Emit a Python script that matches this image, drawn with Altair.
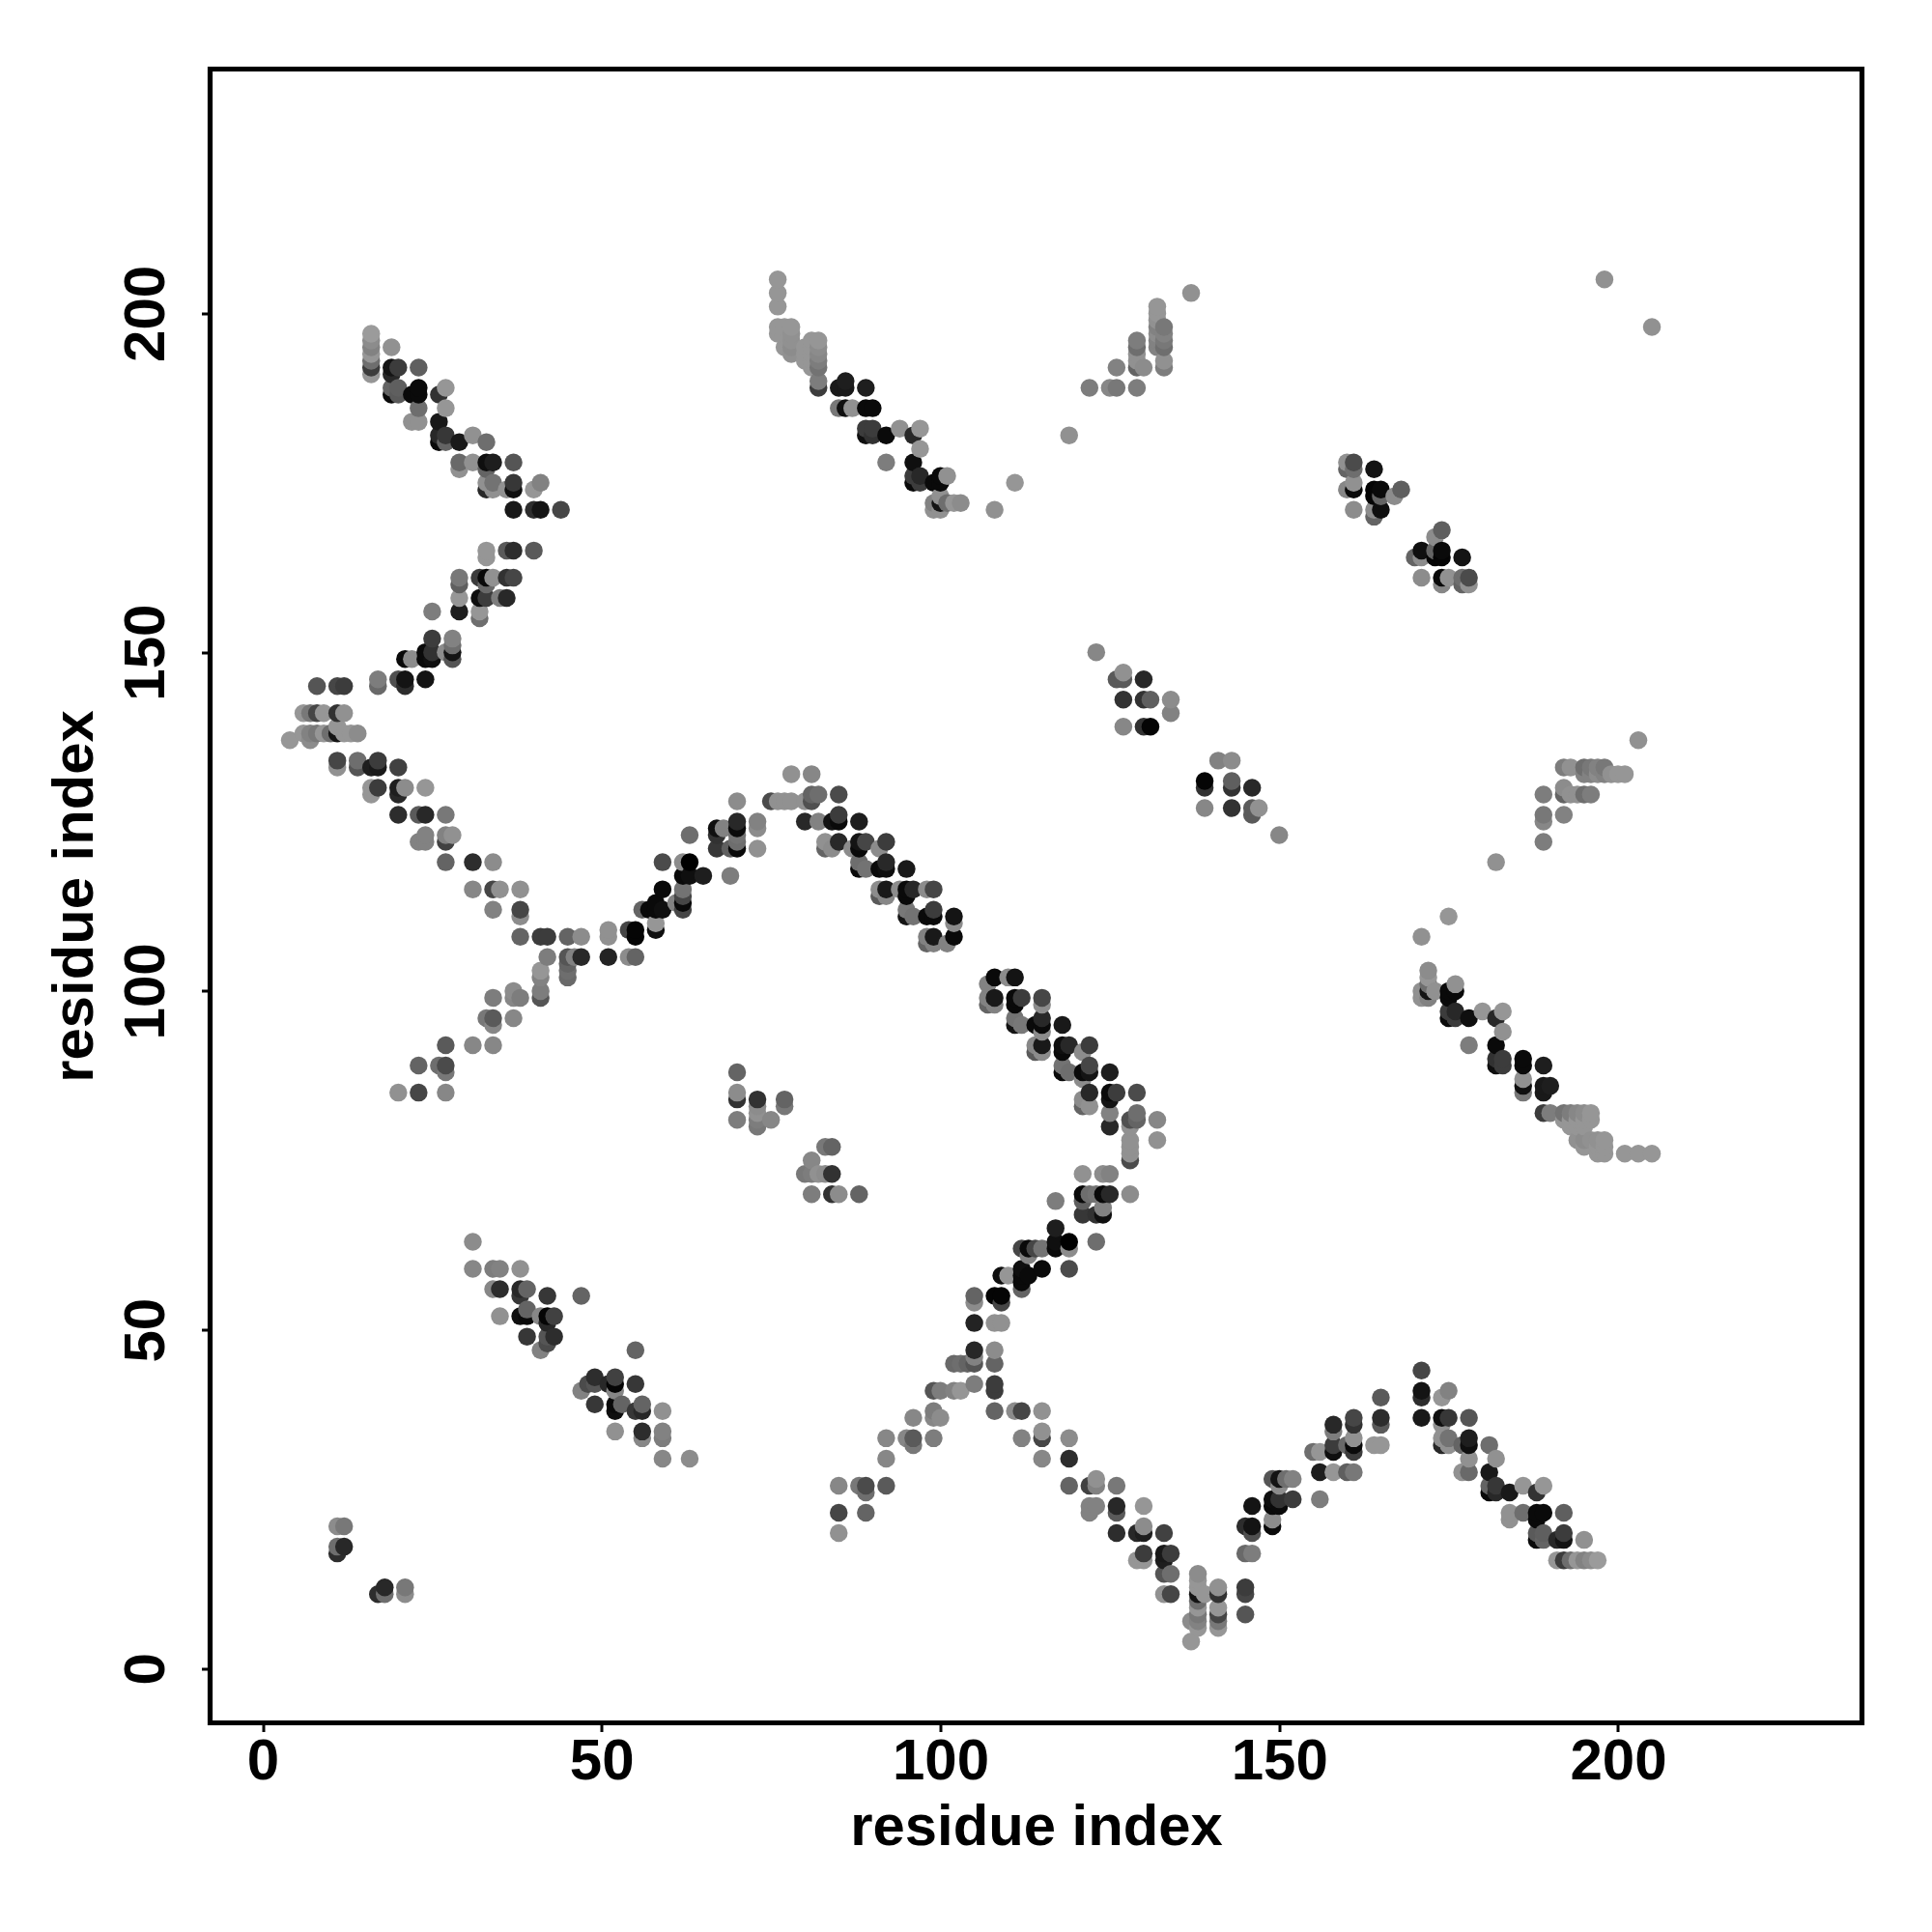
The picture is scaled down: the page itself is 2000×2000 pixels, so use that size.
import altair as alt
import pandas as pd

# Contact map: each entry is (residue a, residue b, grey level 0-255), a < b; the map is symmetric.
arm_upper_left = [
 (16,191,150),(16,192,60),(16,193,110),(16,194,150),(16,195,130),(16,196,140),(16,197,155),
 (19,195,145),(19,192,20),(20,192,60),(19,191,40),(23,192,95),
 (19,189,100),(20,189,95),(19,188,10),(20,188,90),(22,188,10),(23,189,10),(23,188,10),
 (26,188,50),(27,189,150),(23,186,110),(22,184,145),(23,184,145),(27,186,150),(26,184,25),
 (26,182,40),(27,182,55),(26,181,10),(27,181,100),(29,181,25),(31,182,145),(33,181,110),
 (29,178,105),(29,177,145),(31,178,145),(33,178,15),(33,177,100),(34,178,30),(37,178,85),
 (33,175,145),(33,174,40),(34,175,115),(34,174,145),(36,174,145),(37,175,55),(37,174,15),
 (40,174,150),(41,175,130),(37,171,25),(40,171,45),(41,171,20),(44,171,70),
]
arm_mid_left = [
 (33,165,150),(33,164,150),(36,165,90),(37,165,45),(40,165,90),
 (29,161,120),(29,160,95),(32,161,60),(33,161,10),(33,160,105),(34,161,145),(36,161,50),(37,161,70),
 (29,158,150),(32,158,15),(33,158,60),(35,158,125),(36,158,40),
 (25,156,125),(29,156,30),(32,156,150),(32,155,110),
 (25,152,60),(28,152,130),(28,151,110),(28,150,20),(28,149,85),(25,150,50),(24,150,10),
 (24,149,10),(25,149,15),(27,150,140),(22,149,140),(21,149,10),
 (17,146,125),(17,145,105),(20,146,80),(21,146,20),(21,145,45),(24,146,20),
 (8,145,85),(11,145,70),(12,145,60),
]
arm_low_left = [
 (6,141,150),(7,141,120),(8,141,70),(9,141,150),(11,141,50),(12,141,145),
 (6,138,150),(7,138,130),(8,138,120),(9,138,150),(10,138,110),(11,138,20),(11,139,150),
 (12,138,150),(13,138,150),(14,138,140),(4,137,150),(7,137,140),
 (11,134,70),(11,133,145),(14,134,110),(14,133,85),(16,133,30),(17,134,60),(17,133,25),(20,133,65),
 (16,130,150),(16,129,150),(17,130,60),(20,130,30),(20,129,40),(21,130,140),(24,130,150),
 (20,126,45),(23,126,90),(24,126,40),(27,126,120),
 (23,122,130),(24,123,130),(24,122,130),(27,123,130),(27,122,65),(28,123,145),
 (27,119,100),(31,119,45),(34,119,140),
 (31,115,135),(34,115,70),(35,115,145),(38,115,145),
 (34,112,130),(38,112,70),(38,111,140),
 (38,108,100),(41,108,60),(42,108,60),(45,108,100),(47,108,140),(51,109,145),(51,108,145),
 (54,109,70),(55,109,5),(55,108,5),
 (42,105,125),(45,105,85),(45,104,100),(45,103,110),(45,102,105),(46,105,130),(47,105,40),
 (51,105,35),(54,105,140),(55,105,100),
 (41,103,150),(41,102,130),(41,100,125),(41,99,85),
 (37,100,140),(34,99,125),(38,99,125),(37,99,135),
 (33,96,120),(34,96,90),(34,95,135),(37,96,135),
 (27,92,90),(31,92,135),(34,92,135),
 (23,89,100),(26,89,110),(27,89,75),(27,88,120),
 (20,85,145),(23,85,70),(27,85,135),
]
arm_arch = [
 (78,132,145),(81,132,135),
 (70,128,140),(75,128,75),(76,128,145),(77,128,145),(78,128,145),(80,128,145),
 (81,129,100),(81,128,80),(82,129,110),(85,129,75),
 (80,125,40),(82,125,130),(84,125,20),(85,125,10),(85,126,60),(88,125,30),
 (83,122,145),(83,121,100),(84,121,140),(85,122,40),(87,121,140),(88,122,20),(88,121,10),
 (89,122,70),(92,122,60),(91,121,140),
 (88,119,110),(88,118,10),(89,118,115),(91,118,10),(92,119,40),(92,118,15),(95,118,25),
 (91,115,140),(91,114,90),(92,115,25),(92,114,135),(94,115,140),(95,115,10),(95,114,10),
 (96,115,40),(98,115,140),(99,115,70),
 (95,112,120),(95,111,20),(96,111,115),(98,111,10),(99,112,60),(99,111,10),(102,111,20),(102,110,140),
 (98,108,130),(98,107,100),(99,108,25),(99,107,130),(101,107,130),(102,108,10),
 (56,112,100),(57,112,10),(58,113,10),(58,112,10),(59,112,15),(59,115,10),
 (58,110,150),(58,109,15),(61,113,130),
 (62,115,115),(62,114,70),(62,113,10),(62,112,70),
 (59,119,75),(62,119,140),(63,119,0),(62,117,10),(63,117,15),(65,117,30),(69,117,125),(63,123,110),
 (67,124,15),(68,124,130),(70,125,40),(70,124,10),(73,125,130),(73,124,140),
 (67,123,50),(67,121,55),(69,121,95),(70,123,115),(70,122,110),(70,121,10),(73,121,145),
]
arm_top = [
 (76,205,150),(76,203,150),(76,201,150),(76,198,150),(76,197,150),
 (77,198,150),(77,197,150),(77,195,150),
 (78,198,150),(78,197,145),(78,196,145),(78,195,140),(78,194,145),
 (80,195,150),(80,194,150),(80,193,150),(81,196,150),(81,195,150),(81,194,150),(81,193,150),(81,192,150),
 (82,196,150),(82,195,140),(82,194,135),(82,193,125),(82,192,115),(82,190,125),(82,189,60),
 (85,189,25),(86,190,30),(86,189,25),(89,189,30),
 (85,186,120),(86,186,15),(87,186,145),(89,186,10),(90,186,10),
 (89,183,60),(89,182,15),(90,183,60),(90,182,50),(92,182,10),(94,183,145),(96,182,40),(97,183,150),
 (97,180,150),(96,178,15),(92,178,125),
 (96,176,60),(96,175,10),(97,176,40),(97,175,60),(99,175,10),(100,176,10),(100,175,10),(101,176,145),
 (100,173,145),(100,172,20),(99,172,130),(99,171,145),(100,171,145),
 (101,172,110),(102,172,150),(103,172,140),
 (108,171,145),(111,175,150),(119,182,145),
 (122,189,125),(125,189,135),(126,189,120),(129,189,125),(126,192,130),
 (129,196,125),(129,195,110),(129,194,145),(129,193,145),(129,192,100),(130,192,140),
 (132,201,150),(132,200,150),(132,199,145),(132,198,130),(132,197,140),(132,196,130),(132,195,130),
 (133,198,120),(133,197,130),(133,196,120),(133,195,110),(133,193,145),(133,192,125),(137,203,145),
]
patch_140 = [
 (123,150,135),(126,146,90),(127,147,145),(127,146,90),(130,146,40),(127,143,50),(130,143,50),
 (131,143,95),(134,143,140),(134,141,130),(127,139,135),(130,139,50),(131,139,5),
]
patch_170 = [
 (160,178,145),(161,178,75),(160,177,100),(161,177,110),(164,177,20),(160,174,135),(161,175,145),
 (161,174,10),(164,174,5),(165,174,10),(164,173,5),(165,173,100),(167,173,140),(168,174,95),
 (161,171,140),(164,171,140),(164,170,100),(165,171,15),
]
patch_50 = [
 (31,63,140),(31,59,135),(34,59,125),(35,59,130),(38,59,145),(34,56,135),(35,56,45),
 (38,56,40),(38,55,55),(39,56,100),(42,55,55),(47,55,100),
 (35,52,145),(38,52,15),(39,52,10),(39,53,100),(41,52,135),(42,52,5),(43,52,65),(42,51,40),
 (39,49,55),(42,49,85),(43,49,45),(41,47,130),(42,48,75),
]
patch_80 = [
 (70,88,100),(70,85,140),(70,84,50),(73,84,50),(73,83,140),(73,82,145),(73,81,125),(73,80,120),
 (70,81,125),(77,84,100),(77,83,120),(75,81,135),
]
patch_15 = [(11,21,140),(12,21,120),(11,18,110),(11,17,45),(12,18,40)]
corner = [(198,205,145)]

tick_values = [0, 50, 100, 150, 200]
axis_label = "residue index"

contacts = (arm_upper_left + arm_mid_left + arm_low_left + arm_arch + arm_top
            + patch_140 + patch_170 + patch_50 + patch_80 + patch_15 + corner)
rows = {}
for a, b, g in contacts:
    rows[(a, b)] = g
    rows[(b, a)] = g
records = [{"a": k[0], "b": k[1], "c": "#%02x%02x%02x" % (v, v, v)} for k, v in sorted(rows.items())]
df = pd.DataFrame(records)

FONT = "Liberation Sans"
x_axis = alt.Axis(values=tick_values, grid=False, domain=False, ticks=True, tickSize=9, tickWidth=3,
                  tickColor="black", labelFont=FONT, labelFontSize=60, labelFontWeight="bold",
                  labelColor="black", labelPadding=2, labelAngle=0, title=axis_label, titleFont=FONT,
                  titleFontSize=59.8, titleFontWeight="bold", titleColor="black", titlePadding=9)
y_axis = alt.Axis(values=tick_values, grid=False, domain=False, ticks=True, tickSize=9, tickWidth=3,
                  tickColor="black", labelFont=FONT, labelFontSize=60, labelFontWeight="bold",
                  labelColor="black", labelPadding=26, labelAngle=270, labelAlign="center",
                  labelBaseline="bottom", title=axis_label, titleFont=FONT,
                  titleFontSize=59.8, titleFontWeight="bold", titleColor="black", titlePadding=13)

points = (
    alt.Chart(df)
    .mark_circle(size=342, opacity=1)
    .encode(
        x=alt.X("a:Q", scale=alt.Scale(domain=[-7.77, 236.0], nice=False, zero=False), axis=x_axis),
        y=alt.Y("b:Q", scale=alt.Scale(domain=[-8.0, 236.05], nice=False, zero=False), axis=y_axis),
        color=alt.Color("c:N", scale=None),
        order=alt.Order("a:Q"),
    )
)
frame = (
    alt.Chart(df.head(1))
    .mark_rect(filled=False, stroke="black", strokeWidth=5.2, clip=False)
    .encode(x=alt.value(0), x2=alt.value(1710), y=alt.value(0), y2=alt.value(1712))
)
chart = (
    alt.layer(points, frame)
    .properties(
        width=1710, height=1712,
        autosize=alt.AutoSizeParams(type="none"),
        padding={"left": 209.5, "top": 63.5, "right": 50, "bottom": 170},
        background="white",
    )
    .configure_view(stroke=None)
)
chart.save("out.html", embed_options={"renderer": "svg", "actions": False})
